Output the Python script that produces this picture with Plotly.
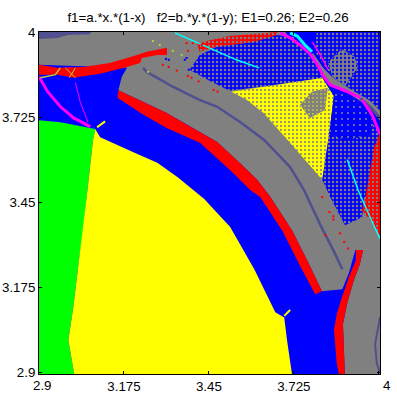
import plotly.graph_objects as go

TITLE = "f1=a.*x.*(1-x)   f2=b.*y.*(1-y); E1=0.26; E2=0.26"
x_tick_vals = [3.175, 3.45, 3.725]
x_tick_text = ["3.175", "3.45", "3.725"]
y_tick_vals = [2.9, 3.175, 3.45, 3.725, 4]
y_tick_text = ["2.9", "3.175", "3.45", "3.725", "4"]

BLUE = "#0000ff"
GRAY = "#808080"
RED = "#ff0000"
YELLOW = "#ffff00"
GREEN = "#00ff00"
MAGENTA = "#ff00ff"
CYAN = "#00ffff"
SLATE = "#505090"
OLIVE = "#b4d232"

# basin boundaries as (a, b) values
green_x = [2.9, 2.969, 3.082, 3.075, 3.056, 3.043, 3.024, 3.011, 2.995, 3.014, 2.9]
green_y = [3.715, 3.708, 3.686, 3.651, 3.482, 3.359, 3.217, 3.110, 3.003, 2.894, 2.894]

yellow_x = [3.082, 3.098, 3.204, 3.283, 3.348, 3.435, 3.519, 3.597, 3.665, 3.694, 3.703, 3.719,
            3.014, 2.995, 3.011, 3.024, 3.043, 3.056, 3.075]
yellow_y = [3.686, 3.660, 3.612, 3.577, 3.531, 3.460, 3.369, 3.233, 3.094, 3.077, 3.003, 2.894,
            2.894, 3.003, 3.110, 3.217, 3.359, 3.482, 3.651]

arc_outer_x = [3.157, 3.238, 3.315, 3.380, 3.422, 3.477, 3.552, 3.607, 3.649, 3.719, 3.774, 3.816]
arc_outer_y = [3.812, 3.774, 3.737, 3.699, 3.676, 3.644, 3.575, 3.521, 3.466, 3.359, 3.250, 3.162]
arc_inner_x = [3.794, 3.742, 3.687, 3.616, 3.584, 3.519, 3.422, 3.315, 3.238, 3.154]
arc_inner_y = [3.152, 3.250, 3.359, 3.466, 3.489, 3.553, 3.641, 3.689, 3.732, 3.787]

gray_upper_x = [2.9, 3.697, 3.817, 3.856, 3.84, 3.843, 3.891, 3.946, 3.924, 3.904, 3.882, 3.816] \
    + arc_outer_x[::-1] + [3.168, 3.185, 2.9]
gray_upper_y = [4.0, 4.0, 3.851, 3.790, 3.673, 3.466, 3.375, 3.327, 3.295, 3.223, 3.168, 3.162] \
    + arc_outer_y[::-1] + [3.855, 3.884, 3.894]

gray_right_x = [3.843, 4.004, 4.004, 3.890, 3.887, 3.884, 3.897, 3.919, 3.939, 3.949, 3.924, 3.891]
gray_right_y = [3.466, 3.466, 2.894, 2.894, 2.981, 3.055, 3.120, 3.197, 3.250, 3.295, 3.295, 3.375]

red_top_x = [2.9, 2.96, 3.043, 3.130, 3.217, 3.249, 3.314, 3.314, 3.282, 3.233, 3.227, 3.185, 3.098, 3.011, 2.96, 2.9]
red_top_y = [3.894, 3.884, 3.887, 3.900, 3.926, 3.936, 3.949, 3.926, 3.926, 3.916, 3.900, 3.887, 3.865, 3.852, 3.862, 3.862]

red_right_x = [3.926, 3.903, 3.881, 3.864, 3.855, 3.864, 3.871, 3.890, 3.887, 3.884, 3.897, 3.919, 3.939, 3.949, 3.926]
red_right_y = [3.263, 3.207, 3.143, 3.088, 3.037, 2.926, 2.894, 2.894, 2.981, 3.055, 3.120, 3.197, 3.250, 3.295, 3.295]

mid_speck_x = [3.388, 3.420, 3.475, 3.594, 3.668, 3.725, 3.790, 3.817, 3.660, 3.517, 3.452]
mid_speck_y = [3.878, 3.926, 3.952, 3.968, 3.990, 3.984, 3.926, 3.851, 3.829, 3.810, 3.842]

red_speck_x = [3.411, 3.517, 3.671, 3.671, 3.594, 3.475, 3.420]
red_speck_y = [3.964, 3.987, 4.0, 3.990, 3.968, 3.952, 3.936]

tri_x = [3.523, 3.817, 3.856, 3.84, 3.817, 3.697, 3.626, 3.572]
tri_y = [3.807, 3.851, 3.790, 3.673, 3.522, 3.660, 3.739, 3.781]
tri_patch_x = [3.745, 3.784, 3.835, 3.826, 3.777]
tri_patch_y = [3.764, 3.807, 3.820, 3.748, 3.722]

low_speck_x = [3.856, 3.914, 3.952, 3.985, 4.004, 3.985, 3.968, 3.952, 3.946, 3.891, 3.843, 3.817, 3.84]
low_speck_y = [3.804, 3.790, 3.758, 3.706, 3.673, 3.628, 3.531, 3.457, 3.401, 3.375, 3.466, 3.522, 3.673]
low_sparse_x = [3.84, 3.856, 3.914, 3.952, 3.985, 3.97, 3.89, 3.835]
low_sparse_y = [3.673, 3.804, 3.790, 3.758, 3.706, 3.665, 3.650, 3.673]

red_edge_x = [4.004, 3.985, 3.968, 3.956, 3.946, 3.978, 4.004]
red_edge_y = [3.673, 3.628, 3.531, 3.463, 3.423, 3.385, 3.340]

up_speck_x = [3.800, 4.004, 4.004, 3.940, 3.875, 3.833, 3.790]
up_speck_y = [4.0, 4.0, 3.732, 3.780, 3.822, 3.877, 3.942]
up_dense_x = [3.836, 3.880, 3.922, 3.932, 3.892, 3.850]
up_dense_y = [3.902, 3.945, 3.920, 3.885, 3.826, 3.855]

ridge_x = [3.787, 3.820, 3.852, 3.917, 3.972, 4.004, 4.004, 3.972, 3.898, 3.833, 3.804, 3.785]
ridge_y = [3.932, 3.884, 3.852, 3.810, 3.778, 3.746, 3.714, 3.755, 3.804, 3.836, 3.884, 3.926]

slate_top_x = [2.9, 3.067, 3.066, 2.992, 2.96, 2.9]
slate_top_y = [4.0, 4.0, 3.993, 3.990, 3.981, 3.977]

# thin attractor curves
slate_arc_x = [3.237, 3.249, 3.333, 3.421, 3.477, 3.552, 3.629, 3.713, 3.758, 3.810, 3.856, 3.882]
slate_arc_y = [3.884, 3.871, 3.823, 3.780, 3.758, 3.708, 3.651, 3.563, 3.489, 3.378, 3.288, 3.233]
slate_ridge_x = [3.94, 3.975, 4.004]
slate_ridge_y = [3.785, 3.755, 3.722]
slate_corner_x = [4.004, 3.988, 3.994, 4.004]
slate_corner_y = [3.078, 2.990, 2.926, 2.900]

magenta_main_x = [3.681, 3.713, 3.745, 3.777, 3.804, 3.820, 3.843, 3.891, 3.940]
magenta_main_y = [3.997, 3.981, 3.958, 3.929, 3.890, 3.858, 3.829, 3.810, 3.788]
magenta_edge_x = [3.946, 3.978, 4.004]
magenta_edge_y = [3.781, 3.733, 3.669]
magenta_thin_x = [3.785, 3.815, 3.836]
magenta_thin_y = [3.968, 3.919, 3.878]
magenta_left_x = [2.9, 2.928, 2.969, 3.011, 3.066]
magenta_left_y = [3.855, 3.807, 3.759, 3.723, 3.694]
magenta_fine_x = [3.018, 3.034, 3.059]
magenta_fine_y = [3.836, 3.772, 3.707]

cyan_a_x = [3.713, 3.736, 3.761, 3.784]
cyan_a_y = [3.997, 3.987, 3.958, 3.936]
cyan_b_x = [3.340, 3.398, 3.462, 3.539, 3.613]
cyan_b_y = [3.997, 3.971, 3.942, 3.910, 3.884]
cyan_c_x = [3.898, 3.933, 3.972, 4.004]
cyan_c_y = [3.588, 3.489, 3.401, 3.332]

olive_x = [2.905, 2.953, 2.969]
olive_y = [3.852, 3.862, 3.884]
olive_cross_a_x = [2.985, 3.018]
olive_cross_a_y = [3.884, 3.852]
olive_cross_b_x = [3.018, 2.998]
olive_cross_b_y = [3.884, 3.852]
spike_a_x = [3.088, 3.114]
spike_a_y = [3.692, 3.711]
spike_b_x = [3.694, 3.713]
spike_b_y = [3.082, 3.101]

# stray cells
stray_red_x = [3.378, 3.398, 3.427, 3.382, 3.301, 3.320, 3.346, 3.382, 3.394, 3.417, 3.465, 3.478,
               3.817, 3.840, 3.853, 3.853, 3.875, 3.827, 3.888, 3.901]
stray_red_y = [3.964, 3.964, 3.958, 3.939, 3.894, 3.887, 3.875, 3.858, 3.852, 3.840, 3.813, 3.807,
               3.466, 3.418, 3.404, 3.394, 3.349, 3.343, 3.321, 3.300]
stray_blue_x = [3.311, 3.320, 3.372, 3.378, 3.385]
stray_blue_y = [3.913, 3.910, 3.910, 3.916, 3.878]
stray_olive_x = [3.269, 3.291, 3.333, 3.362, 3.253]
stray_olive_y = [3.971, 3.958, 3.939, 3.926, 3.871]

fig = go.Figure()


def add_region(x, y, color, dots=None, size=4, solidity=0.3):
    trace = dict(x=x, y=y, mode="lines", line=dict(width=0), fill="toself", fillcolor=color, hoverinfo="skip")
    if dots:
        trace["fillpattern"] = dict(shape=".", bgcolor=color, fgcolor=dots, fgopacity=1, size=size, solidity=solidity)
    fig.add_trace(go.Scatter(**trace))


def add_curve(x, y, color, width):
    fig.add_trace(go.Scatter(x=x, y=y, mode="lines", line=dict(color=color, width=width), hoverinfo="skip"))


def add_stray(x, y, color):
    fig.add_trace(go.Scatter(x=x, y=y, mode="markers", marker=dict(color=color, size=2, symbol="square"), hoverinfo="skip"))


add_region(gray_upper_x, gray_upper_y, GRAY)
add_region(gray_right_x, gray_right_y, GRAY)
add_region(arc_outer_x + arc_inner_x, arc_outer_y + arc_inner_y, RED)
add_region(red_top_x, red_top_y, RED)
add_region(red_right_x, red_right_y, RED)
add_region(green_x, green_y, GREEN)
add_region(yellow_x, yellow_y, YELLOW)
add_region(slate_top_x, slate_top_y, SLATE)

add_region(mid_speck_x, mid_speck_y, BLUE, GRAY)
add_region(red_speck_x, red_speck_y, RED, GRAY)
add_region(tri_x, tri_y, YELLOW, GRAY, size=4, solidity=0.22)
add_region(tri_patch_x, tri_patch_y, GRAY, YELLOW, size=4, solidity=0.1)
add_region(low_speck_x, low_speck_y, BLUE, GRAY)
add_region(low_sparse_x, low_sparse_y, BLUE, GRAY, size=6, solidity=0.1)
add_region(red_edge_x, red_edge_y, RED, GRAY, size=4, solidity=0.25)
add_region(up_speck_x, up_speck_y, BLUE, GRAY, size=4, solidity=0.3)
add_region(up_dense_x, up_dense_y, GRAY, BLUE, size=4, solidity=0.25)
add_region(ridge_x, ridge_y, GRAY)

add_curve(slate_arc_x, slate_arc_y, SLATE, 2.5)
add_curve(slate_ridge_x, slate_ridge_y, SLATE, 3)
add_curve(slate_corner_x, slate_corner_y, SLATE, 2)
add_curve(magenta_main_x, magenta_main_y, MAGENTA, 3)
add_curve(magenta_edge_x, magenta_edge_y, MAGENTA, 3)
add_curve(magenta_thin_x, magenta_thin_y, MAGENTA, 1.5)
add_curve(magenta_left_x, magenta_left_y, MAGENTA, 3)
add_curve(magenta_fine_x, magenta_fine_y, MAGENTA, 1)
add_curve(cyan_a_x, cyan_a_y, CYAN, 3)
add_curve(cyan_b_x, cyan_b_y, CYAN, 1.5)
add_curve(cyan_c_x, cyan_c_y, CYAN, 1.5)
add_curve(olive_x, olive_y, OLIVE, 1.5)
add_curve(olive_cross_a_x, olive_cross_a_y, OLIVE, 1)
add_curve(olive_cross_b_x, olive_cross_b_y, OLIVE, 1)
add_curve(spike_a_x, spike_a_y, YELLOW, 2)
add_curve(spike_b_x, spike_b_y, YELLOW, 2)

add_stray(stray_red_x, stray_red_y, RED)
add_stray(stray_blue_x, stray_blue_y, BLUE)
add_stray(stray_olive_x, stray_olive_y, OLIVE)

font_style = dict(family="Liberation Sans", size=13.33, color="black")
axis_style = dict(
    ticks="inside", ticklen=3, tickcolor="black", tickwidth=1,
    showgrid=False, zeroline=False, showline=True, linecolor="black", linewidth=1, mirror="ticks",
    automargin=False, tickfont=font_style,
)

fig.update_layout(
    width=397, height=397, showlegend=False,
    margin=dict(l=39, r=17, t=32, b=23),
    paper_bgcolor="white", plot_bgcolor=BLUE,
    title=dict(text=TITLE, x=0.524, xanchor="center", y=0.957, yanchor="middle", automargin=False, font=font_style),
    xaxis=dict(range=[2.9, 4.004], tickvals=[2.9] + x_tick_vals + [4], ticktext=[""] + x_tick_text + [""], **axis_style),
    yaxis=dict(range=[2.894, 4.0], tickvals=y_tick_vals, ticktext=y_tick_text, **axis_style),
)

# the two end labels sit a little outside their ticks in the original
fig.add_annotation(x=2.9, y=0, xref="x", yref="paper", text="2.9", showarrow=False, font=font_style,
                   xshift=3, yanchor="top", yshift=-2)
fig.add_annotation(x=4, y=0, xref="x", yref="paper", text="4", showarrow=False, font=font_style,
                   xshift=8, yanchor="top", yshift=-2)

fig.write_html("out.html", config=dict(displayModeBar=False),
               post_script="document.body.style.margin='0';")
